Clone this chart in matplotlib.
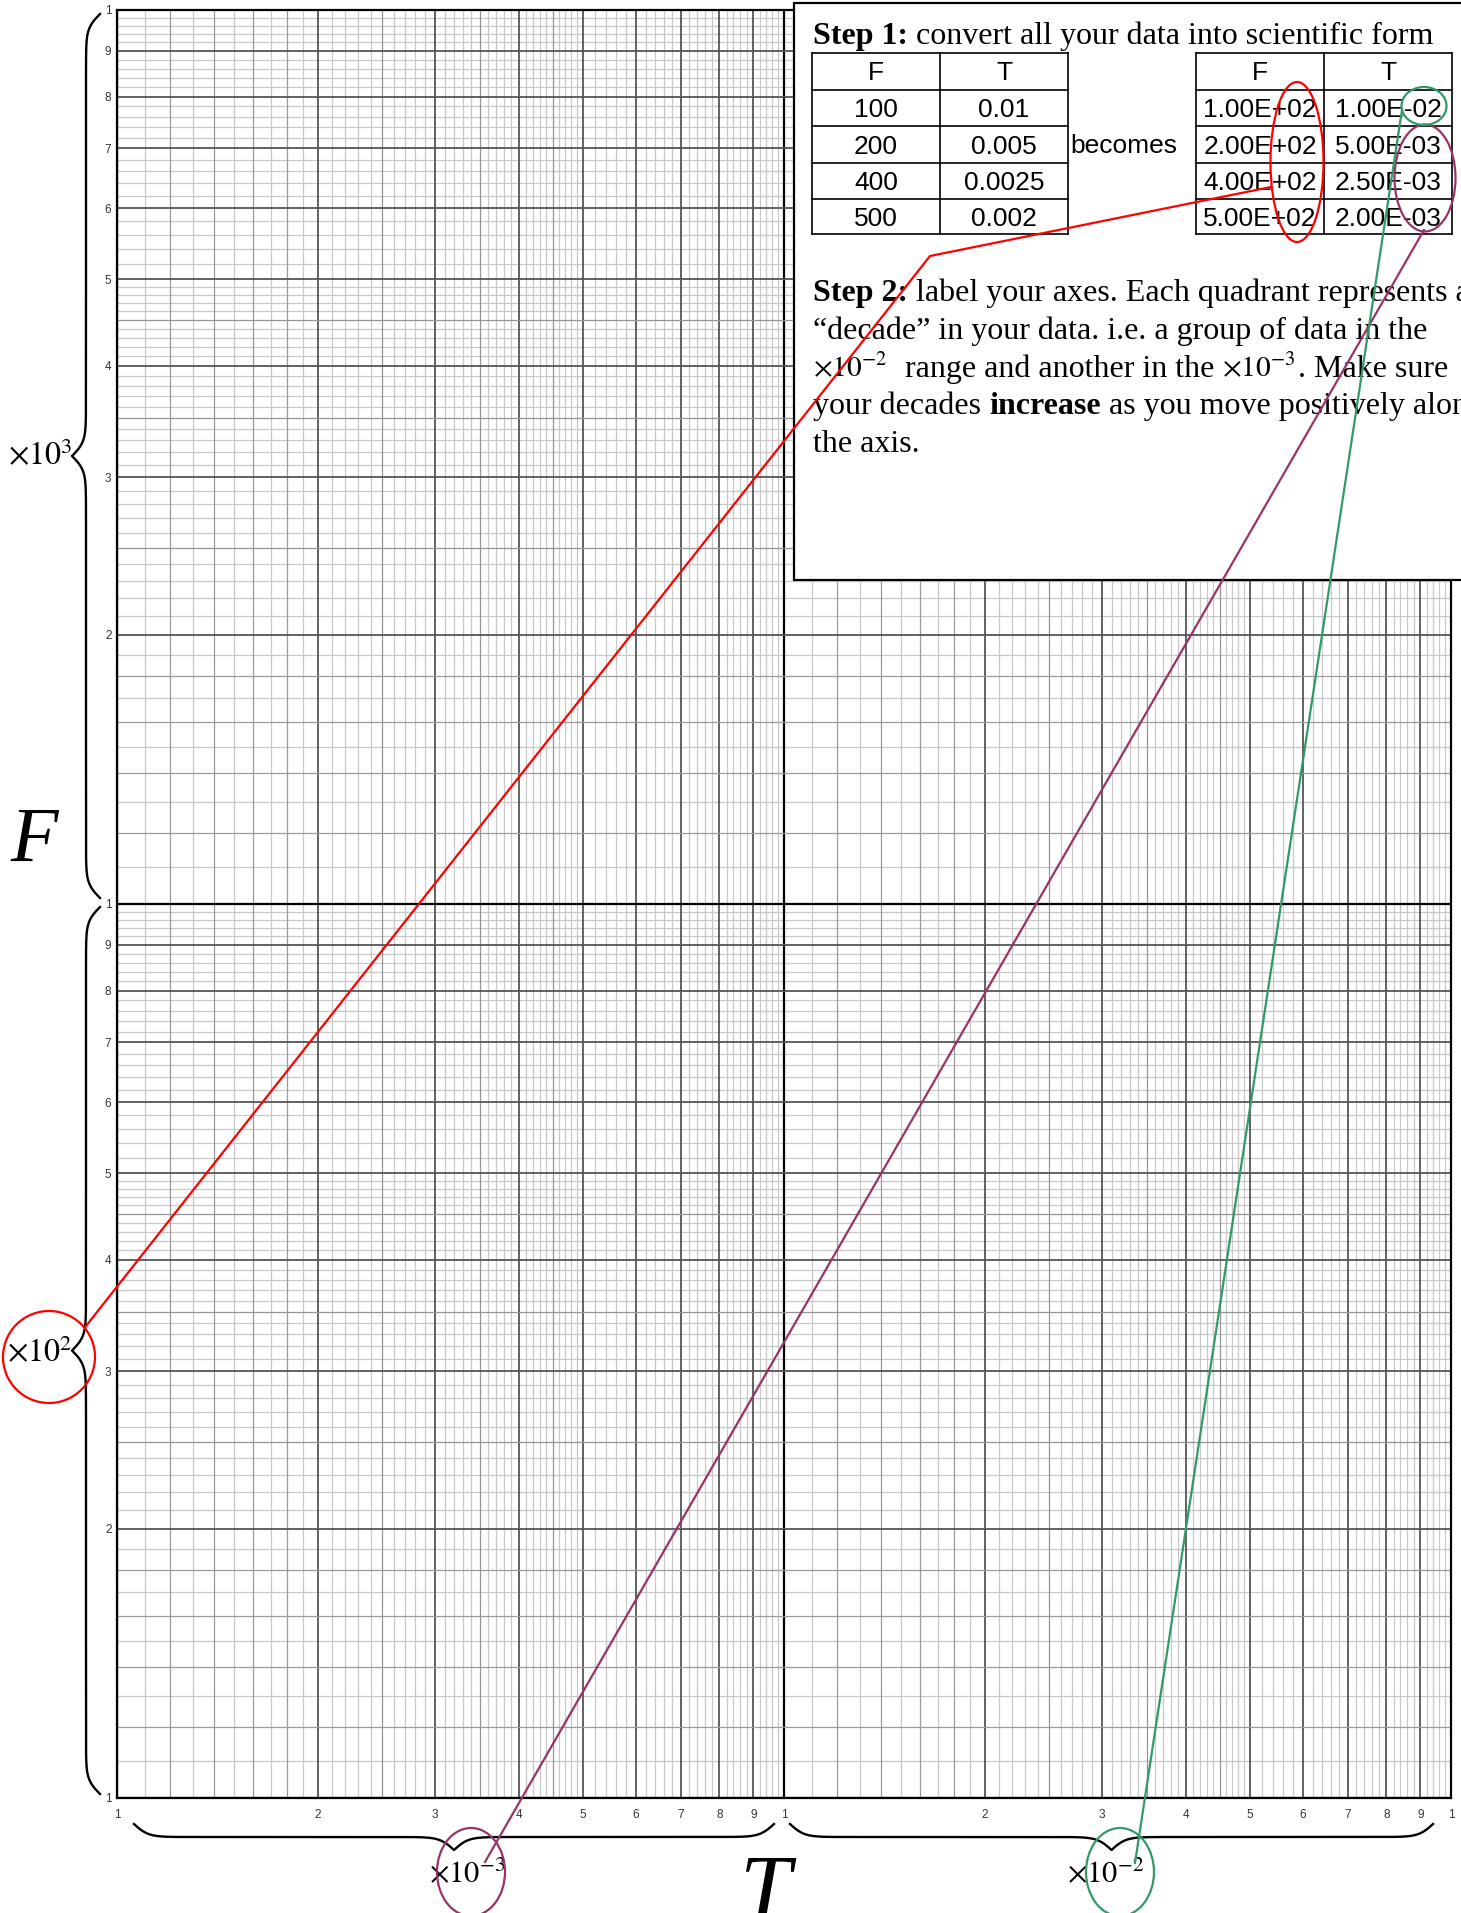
"""
Hoja log-log de dos décadas con la explicación de cómo rotular los ejes.
"""

import numpy as np
import matplotlib.pyplot as plt
from matplotlib.patches import Ellipse, Rectangle
from matplotlib.ticker import NullLocator

plt.rcParams["mathtext.fontset"] = "stix"

# --- Datos --------------------------------------------------------------------
F_VALUES = [100, 200, 400, 500]
T_VALUES = [0.01, 0.005, 0.0025, 0.002]
F_TEXT = ["100", "200", "400", "500"]
T_TEXT = ["0.01", "0.005", "0.0025", "0.002"]
T_DECADES = [1e-3, 1e-2]          # décadas del eje horizontal
F_DECADES = [1e2, 1e3]            # décadas del eje vertical
TICK_MANTISSAS = [1, 2, 3, 4, 5, 6, 7, 8, 9]

# --- Layout (px de la imagen final) --------------------------------------------
W, H = 1461, 1913
AX_L, AX_T, AX_R, AX_B = 117, 10, 1451, 1798
SERIF = "Liberation Serif"
SANS = "Liberation Sans"
RED, PLUM, GREEN = "#ff0000", "#993366", "#339966"

fig = plt.figure(figsize=(W / 100, H / 100), dpi=100)
ax = fig.add_axes([AX_L / W, 1 - AX_B / H, (AX_R - AX_L) / W, (AX_B - AX_T) / H])
ax.set_xscale("log")
ax.set_yscale("log")
ax.set_xlim(T_DECADES[0], T_DECADES[-1] * 10)
ax.set_ylim(F_DECADES[0], F_DECADES[-1] * 10)


# --- papel logarítmico --------------------------------------------------------
def paper_lines(decades):
    """Devuelve (valor, color, ancho) de cada línea de la grilla."""
    out = []
    for d in decades:
        for lo, hi, step in [(1, 2, 0.1), (2, 5, 0.1), (5, 10, 0.2)]:
            n = int(round((hi - lo) / step))
            for k in range(n):
                m = round(lo + k * step, 2)
                if m == 1:
                    out.append((d * m, "#000000", 1.6))
                elif float(m).is_integer():
                    out.append((d * m, "#555555", 1.3))
                elif m < 2 and round(m * 10) % 2 == 0:
                    out.append((d * m, "#9a9a9a", 0.9))
                elif 2 < m < 5 and round(m * 10) % 5 == 0:
                    out.append((d * m, "#959595", 0.9))
                else:
                    out.append((d * m, "#c8c8c8", 0.9))
    return out


for v, c, lw in paper_lines(T_DECADES):
    ax.axvline(v, color=c, lw=lw, zorder=1 if c == "#c8c8c8" else 2)
for v, c, lw in paper_lines(F_DECADES):
    ax.axhline(v, color=c, lw=lw, zorder=1 if c == "#c8c8c8" else 2)

for s in ax.spines.values():
    s.set_linewidth(1.6)
    s.set_zorder(3)

xt = [d * m for d in T_DECADES for m in TICK_MANTISSAS] + [T_DECADES[-1] * 10]
yt = [d * m for d in F_DECADES for m in TICK_MANTISSAS] + [F_DECADES[-1] * 10]
labels = [str(m) for d in T_DECADES for m in TICK_MANTISSAS] + ["1"]
ax.set_xticks(xt)
ax.set_xticklabels(labels)
ax.set_yticks(yt)
ax.set_yticklabels(labels)
ax.xaxis.set_minor_locator(NullLocator())
ax.yaxis.set_minor_locator(NullLocator())
ax.tick_params(length=0, labelsize=8.5, labelcolor="#333333")
ax.tick_params(axis="x", pad=8)
ax.tick_params(axis="y", pad=4)
for t in ax.get_xticklabels() + ax.get_yticklabels():
    t.set_family(SANS)

# --- capa de anotaciones en píxeles --------------------------------------------
ov = fig.add_axes([0, 0, 1, 1], zorder=5)
ov.set_xlim(0, W)
ov.set_ylim(H, 0)
ov.axis("off")


def brace(a, b, base, depth, vertical, beta=0.14, m=400):
    """Llave entre a y b; base = extremos, depth = hacia la punta."""
    s = np.linspace(a, b, 2 * m + 1)
    half = s[: m + 1]
    h = 1 / (1 + np.exp(-beta * (half - half[0]))) + 1 / (1 + np.exp(-beta * (half - half[-1])))
    off = np.concatenate((h, h[-2::-1])) - 0.5
    p = base + depth * off
    if vertical:
        ov.plot(p, s, color="black", lw=1.7)
    else:
        ov.plot(s, p, color="black", lw=1.7)


def decade_label(d):
    return r"$\times10^{%d}$" % int(round(np.log10(d)))


# llaves y rótulos de décadas
brace(14, 898, 100, -28, True)
brace(907, 1794, 100, -28, True)
brace(134, 774, 1824, 26, False)
brace(790, 1433, 1824, 26, False)
ov.text(40, 457, decade_label(F_DECADES[1]), fontsize=23, ha="center", va="center")
ov.text(40, 1354, decade_label(F_DECADES[0]), fontsize=23, ha="center", va="center")
ov.text(467, 1873, decade_label(T_DECADES[0]), fontsize=22, ha="center", va="center")
ov.text(1106, 1873, decade_label(T_DECADES[1]), fontsize=22, ha="center", va="center")
ov.text(34, 842, "F", family=SERIF, style="italic", fontsize=56, ha="center", va="center")
ov.text(765, 1895, "T", family=SERIF, style="italic", fontsize=66, ha="center", va="center")

# recuadro de instrucciones
ov.add_patch(Rectangle((794, 3), 800, 577, facecolor="white", edgecolor="black", lw=1.6, zorder=1))

renderer = fig.canvas.get_renderer()


def seg_width(txt, weight, size):
    a = ov.text(0, 0, "X" + txt + "X", fontsize=size, fontweight=weight, family=SERIF)
    b = ov.text(0, 0, "XX", fontsize=size, fontweight=weight, family=SERIF)
    w = a.get_window_extent(renderer).width - b.get_window_extent(renderer).width
    a.remove()
    b.remove()
    return w


def rich_line(x, y, parts, size=23):
    for txt, weight in parts:
        fs = size * 0.92 if txt.startswith("$") else size
        ov.text(x, y, txt, fontsize=fs, fontweight=weight, family=SERIF,
                ha="left", va="baseline", zorder=2)
        x += seg_width(txt, weight, fs)


rich_line(813, 44, [("Step 1:", "bold"), (" convert all your data into scientific form", "normal")])

# tablas
ROWS = [53, 90, 126, 163, 199, 234]
COLS1 = [812, 940, 1068]
COLS2 = [1196, 1324, 1452]


def table(cols, header, col_a, col_b):
    for y in ROWS:
        ov.plot([cols[0], cols[-1]], [y, y], color="black", lw=1.2, zorder=2)
    for x in cols:
        ov.plot([x, x], [ROWS[0], ROWS[-1]], color="black", lw=1.2, zorder=2)
    cells = [header] + list(zip(col_a, col_b))
    for i, row in enumerate(cells):
        yc = (ROWS[i] + ROWS[i + 1]) / 2 + 2
        for j, txt in enumerate(row):
            ov.text((cols[j] + cols[j + 1]) / 2, yc, txt, family=SANS, fontsize=19,
                    ha="center", va="center", zorder=2)


table(COLS1, ("F", "T"), F_TEXT, T_TEXT)
table(COLS2, ("F", "T"), [f"{v:.2E}" for v in F_VALUES], [f"{v:.2E}" for v in T_VALUES])
ov.text(1124, 146, "becomes", family=SANS, fontsize=19, ha="center", va="center", zorder=2)

step2 = [
    [("Step 2:", "bold"), (" label your axes. Each quadrant represents a", "normal")],
    [("\u201cdecade\u201d in your data. i.e. a group of data in the", "normal")],
    [(decade_label(T_DECADES[1]), "normal"), ("  range and another in the ", "normal"),
     (decade_label(T_DECADES[0]), "normal"), (". Make sure", "normal")],
    [("your decades ", "normal"), ("increase", "bold"), (" as you move positively along", "normal")],
    [("the axis.", "normal")],
]
for i, parts in enumerate(step2):
    rich_line(813, 301 + 37.8 * i, parts)

# círculos y conectores
ov.add_patch(Ellipse((49, 1357), 92, 92, fill=False, ec=RED, lw=1.6, zorder=4))
ov.add_patch(Ellipse((1297, 162), 53, 160, fill=False, ec=RED, lw=1.6, zorder=4))
ov.plot([86, 930, 1271], [1326, 256, 187], color=RED, lw=1.6, zorder=4)

ov.add_patch(Ellipse((1425, 178), 61, 107, fill=False, ec=PLUM, lw=1.6, zorder=4))
ov.add_patch(Ellipse((471, 1872), 68, 88, fill=False, ec=PLUM, lw=1.6, zorder=4))
ov.plot([1424, 485], [230, 1862], color=PLUM, lw=1.6, zorder=4)

ov.add_patch(Ellipse((1424, 106), 45, 38, fill=False, ec=GREEN, lw=1.6, zorder=4))
ov.add_patch(Ellipse((1120, 1872), 68, 88, fill=False, ec=GREEN, lw=1.6, zorder=4))
ov.plot([1402, 1135], [110, 1863], color=GREEN, lw=1.6, zorder=4)

fig.savefig("out.png", dpi=100)
